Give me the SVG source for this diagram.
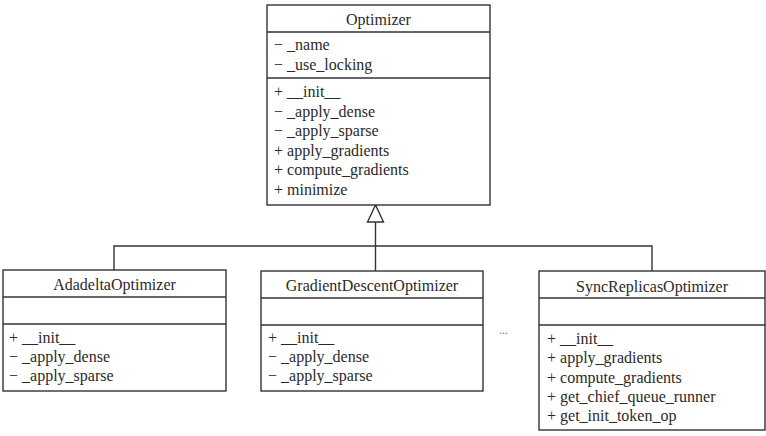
<svg xmlns="http://www.w3.org/2000/svg" width="766" height="436" viewBox="0 0 766 436">
<style>
.box{fill:#fff;stroke:#333;stroke-width:1.4}
.div{stroke:#333;stroke-width:1.4}
.conn{fill:none;stroke:#333;stroke-width:1.4}
text{font-family:"Liberation Serif","Times New Roman",serif;font-size:16px;fill:#2a2a2a}
.t{text-anchor:middle}
</style>
<rect width="766" height="436" fill="#fff"/>
<g id="connectors">
<polyline class="conn" points="114,270 114,246 652,246 652,271"/>
<line class="conn" x1="375.5" y1="222" x2="375.5" y2="271"/>
<polygon class="conn" points="375.5,205 367.5,222 383.5,222" fill="#fff"/>
</g>
<g id="Optimizer">
<rect class="box" x="267" y="5" width="223" height="200"/>
<line class="div" x1="267" y1="32" x2="490" y2="32"/>
<line class="div" x1="267" y1="78" x2="490" y2="78"/>
<text class="t" x="378.5" y="25">Optimizer</text>
<text x="274" y="50">− _name</text>
<text x="274" y="70">− _use_locking</text>
<text x="274" y="97">+ __init__</text>
<text x="274" y="117">− _apply_dense</text>
<text x="274" y="136">− _apply_sparse</text>
<text x="274" y="156">+ apply_gradients</text>
<text x="274" y="175">+ compute_gradients</text>
<text x="274" y="195">+ minimize</text>
</g>
<g id="AdadeltaOptimizer">
<rect class="box" x="3" y="270" width="223" height="121"/>
<line class="div" x1="3" y1="297" x2="226" y2="297"/>
<line class="div" x1="3" y1="324" x2="226" y2="324"/>
<text class="t" x="114.5" y="290">AdadeltaOptimizer</text>
<text x="9" y="343">+ __init__</text>
<text x="9" y="362">− _apply_dense</text>
<text x="9" y="381">− _apply_sparse</text>
</g>
<g id="GradientDescentOptimizer">
<rect class="box" x="261" y="271" width="222" height="120"/>
<line class="div" x1="261" y1="298" x2="483" y2="298"/>
<line class="div" x1="261" y1="325" x2="483" y2="325"/>
<text class="t" x="372" y="291">GradientDescentOptimizer</text>
<text x="268" y="343">+ __init__</text>
<text x="268" y="362">− _apply_dense</text>
<text x="268" y="381">− _apply_sparse</text>
</g>
<text x="499" y="334" style="font-size:12px;fill:#777">...</text>
<g id="SyncReplicasOptimizer">
<rect class="box" x="539" y="271" width="226" height="159"/>
<line class="div" x1="539" y1="298" x2="765" y2="298"/>
<line class="div" x1="539" y1="325" x2="765" y2="325"/>
<text class="t" x="652" y="292">SyncReplicasOptimizer</text>
<text x="547" y="344">+ __init__</text>
<text x="547" y="363">+ apply_gradients</text>
<text x="547" y="383">+ compute_gradients</text>
<text x="547" y="402">+ get_chief_queue_runner</text>
<text x="547" y="421">+ get_init_token_op</text>
</g>
</svg>
